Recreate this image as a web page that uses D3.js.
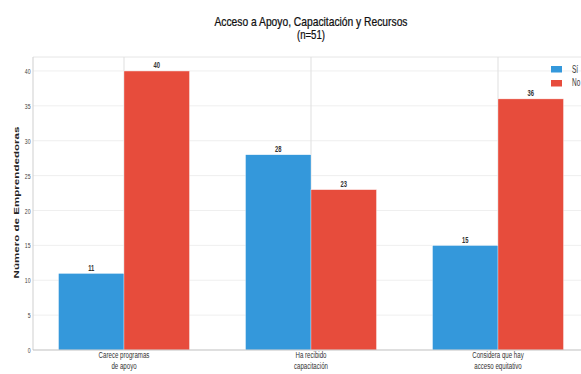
<!DOCTYPE html>
<html>
<head>
<meta charset="utf-8">
<script src="https://cdn.jsdelivr.net/npm/d3@7"></script>
<style>
  html, body { margin: 0; padding: 0; background: #fff; }
  svg { display: block; font-family: "Liberation Sans", Arial, sans-serif; }
</style>
</head>
<body>
<div id="chart"></div>
<script>
// Survey answers per question (n = 51)
const categories = ["Carece programas\nde apoyo", "Ha recibido\ncapacitación", "Considera que hay\nacceso equitativo"];
const series = ["Sí", "No"];
const valuesSi = [11, 28, 15];
const valuesNo = [40, 23, 36];
const yTicks = [0, 5, 10, 15, 20, 25, 30, 35, 40];
const colors = ["#3498db", "#e74c3c"];

const width = 581, height = 374;
// the drawing is laid out on a wider canvas and squeezed horizontally into the window
const sx = 0.646;
const W = width / sx;

const svg = d3.select("#chart").append("svg")
  .attr("width", width).attr("height", height)
  .attr("viewBox", `0 0 ${W} ${height}`)
  .attr("preserveAspectRatio", "none");

const plot = { left: 33 / sx, right: 589 / sx, top: 57, bottom: 350 };

const x0 = d3.scaleBand().domain(categories)
  .range([30.5 / sx, 591.5 / sx]).paddingInner(0.3).paddingOuter(0.15);
const x1 = d3.scaleBand().domain(series).range([0, x0.bandwidth()]);
const y = d3.scaleLinear().domain([0, 42]).range([plot.bottom, plot.top]);

// grid
const grid = svg.append("g");
grid.selectAll("line.h").data(yTicks).join("line")
  .attr("x1", plot.left).attr("x2", plot.right)
  .attr("y1", d => y(d)).attr("y2", d => y(d))
  .attr("stroke", "#ebebeb").attr("stroke-width", 1);
grid.selectAll("line.v").data(categories).join("line")
  .attr("x1", d => x0(d) + x0.bandwidth() / 2).attr("x2", d => x0(d) + x0.bandwidth() / 2)
  .attr("y1", plot.top).attr("y2", plot.bottom)
  .attr("stroke", "#e0e0e0").attr("stroke-width", 1 / sx);

// frame
svg.append("line").attr("x1", plot.left).attr("x2", plot.right)
  .attr("y1", plot.top).attr("y2", plot.top).attr("stroke", "#e0e0e0");
svg.append("line").attr("x1", plot.left).attr("x2", plot.left)
  .attr("y1", plot.top).attr("y2", plot.bottom).attr("stroke", "#d0d0d0").attr("stroke-width", 1 / sx);

// bars
const rows = categories.map((c, i) => ({ c, vals: [valuesSi[i], valuesNo[i]] }));
const groups = svg.append("g").selectAll("g").data(rows).join("g")
  .attr("transform", d => `translate(${x0(d.c)},0)`);
groups.selectAll("rect").data(d => d.vals.map((v, j) => ({ s: series[j], v, j })))
  .join("rect")
  .attr("x", d => x1(d.s)).attr("width", x1.bandwidth())
  .attr("y", d => y(d.v)).attr("height", d => y(0) - y(d.v))
  .attr("fill", d => colors[d.j])
  .attr("stroke", "#fff").attr("stroke-width", 0.5);
groups.selectAll("text").data(d => d.vals.map((v, j) => ({ s: series[j], v, j })))
  .join("text")
  .attr("x", d => x1(d.s) + x1.bandwidth() / 2).attr("y", d => y(d.v) - 2.5)
  .attr("text-anchor", "middle").attr("font-size", 9).attr("font-weight", "bold")
  .attr("fill", "#333").text(d => d.v);

// bottom axis line
svg.append("line").attr("x1", plot.left).attr("x2", plot.right)
  .attr("y1", plot.bottom).attr("y2", plot.bottom).attr("stroke", "#bdbdbd");

// y axis labels
const yAxis = d3.axisLeft(y).tickValues(yTicks).tickSize(0).tickPadding(2.5 / sx);
const ya = svg.append("g").attr("transform", `translate(${plot.left},0)`).call(yAxis);
ya.select(".domain").remove();
ya.selectAll("text").attr("font-size", 8).attr("fill", "#444")
  .attr("font-family", "Liberation Sans, Arial, sans-serif");

// x axis labels
const xa = svg.append("g");
categories.forEach(c => {
  const lines = c.split("\n");
  const cx = x0(c) + x0.bandwidth() / 2;
  const t = xa.append("text").attr("text-anchor", "middle")
    .attr("font-size", 9.5).attr("fill", "#333")
    .attr("x", cx).attr("y", 358.5);
  lines.forEach((l, k) => t.append("tspan")
    .attr("x", cx).attr("dy", k === 0 ? 0 : 11).text(l));
});

// y title
svg.append("text")
  .attr("transform", `translate(${19 / sx},${(plot.top + plot.bottom) / 2 - 1}) rotate(-90)`)
  .attr("text-anchor", "middle").attr("font-size", 11.6).attr("font-weight", "bold")
  .attr("fill", "#222").text("Número de Emprendedoras");

// title (two lines, fitted to a fixed width)
const cxTitle = (plot.left + plot.right) / 2;
const titleLines = [
  { text: "Acceso a Apoyo, Capacitación y Recursos", y: 26.5, w: 193 },
  { text: "(n=51)", y: 39.5, w: 28 }
];
svg.append("g").selectAll("text").data(titleLines).join("text")
  .attr("text-anchor", "middle")
  .attr("font-size", 12).attr("fill", "#111")
  .attr("stroke", "#111").attr("stroke-width", 0.25)
  .attr("x", cxTitle).attr("y", d => d.y)
  .attr("textLength", d => d.w / sx).attr("lengthAdjust", "spacingAndGlyphs")
  .text(d => d.text);

// legend
const lg = svg.append("g").attr("transform", `translate(${551 / sx},66)`);
series.forEach((s, i) => {
  lg.append("rect").attr("x", 0).attr("y", i * 14).attr("width", 11 / sx).attr("height", 6.5)
    .attr("fill", colors[i]);
  lg.append("text").attr("x", 21 / sx).attr("y", i * 14 + 6.5).attr("font-size", 10)
    .attr("fill", "#333").text(s);
});
</script>
</body>
</html>
